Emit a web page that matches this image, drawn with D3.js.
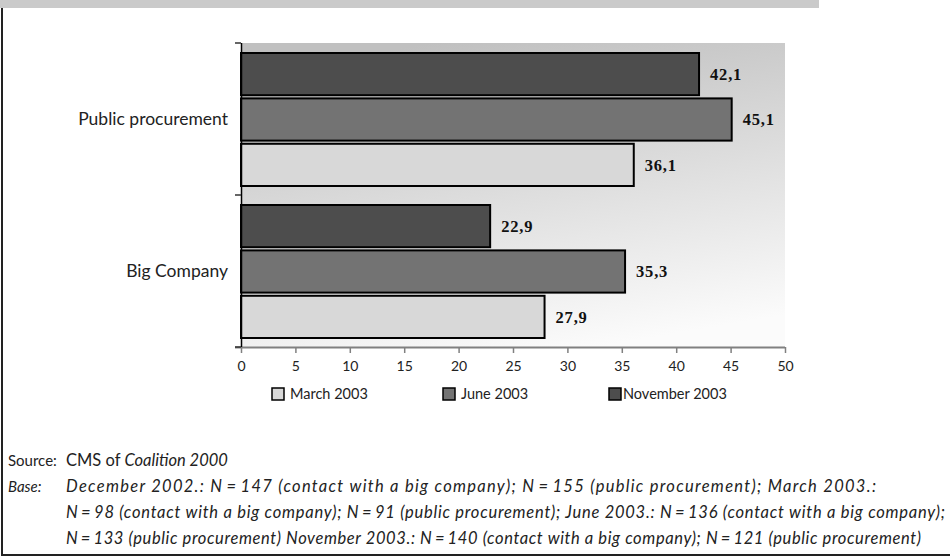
<!DOCTYPE html>
<html>
<head>
<meta charset="utf-8">
<script src="https://cdn.jsdelivr.net/npm/d3@7/dist/d3.min.js"></script>
<style>
  html, body { margin: 0; padding: 0; background: #fff; }
  svg { display: block; }
  .sans { font-family: Lato, "Open Sans", "Noto Sans", sans-serif; }
  .serif { font-family: "Liberation Serif", "DejaVu Serif", serif; }
</style>
</head>
<body>
<svg id="chart" width="950" height="558"></svg>
<script>
// Survey groups (top to bottom on the chart)
const categories = ["Public procurement", "Big Company"];
// Survey waves, drawn top to bottom inside each group
const seriesNames = ["November 2003", "June 2003", "March 2003"];
// Legend order
const legendOrder = ["March 2003", "June 2003", "November 2003"];
// Shares per wave, in the same order as categories
const november2003 = [42.1, 22.9];
const june2003 = [45.1, 35.3];
const march2003 = [36.1, 27.9];
const xTicks = [0, 5, 10, 15, 20, 25, 30, 35, 40, 45, 50];

const seriesValues = {
  "November 2003": november2003,
  "June 2003": june2003,
  "March 2003": march2003
};
const fills = {
  "November 2003": "#4d4d4d",
  "June 2003": "#737373",
  "March 2003": "#d8d8d8"
};

const svg = d3.select("#chart");

// Page frame: grey strip on top, rule on the left and at the bottom
svg.append("rect").attr("x", 0).attr("y", 0).attr("width", 819).attr("height", 8).attr("fill", "#cacaca");
svg.append("line").attr("x1", 2).attr("x2", 2).attr("y1", 8).attr("y2", 556)
  .attr("stroke", "#222").attr("stroke-width", 2);
svg.append("line").attr("x1", 1).attr("x2", 950).attr("y1", 555).attr("y2", 555)
  .attr("stroke", "#222").attr("stroke-width", 2);

const plot = { left: 241, right: 785, top: 43, bottom: 347 };

const x = d3.scaleLinear().domain([0, 50]).range([plot.left, plot.right]);
const y = d3.scaleBand().domain(categories).range([plot.top, plot.bottom]);
const inner = d3.scaleBand().domain(seriesNames)
  .range([10, y.bandwidth() - 9]).paddingInner(0.07);

// Plot background with a soft grey gradient
const defs = svg.append("defs");
const grad = defs.append("linearGradient").attr("id", "plotBg")
  .attr("x1", "0.35").attr("y1", "0").attr("x2", "0.65").attr("y2", "1");
grad.append("stop").attr("offset", "0%").attr("stop-color", "#c0c0c0");
grad.append("stop").attr("offset", "100%").attr("stop-color", "#fbfbfb");

svg.append("rect")
  .attr("x", plot.left).attr("y", plot.top)
  .attr("width", plot.right - plot.left).attr("height", plot.bottom - plot.top)
  .attr("fill", "url(#plotBg)");

// Bars
const rows = [];
categories.forEach((c, i) => {
  seriesNames.forEach(s => rows.push({ cat: c, series: s, value: seriesValues[s][i] }));
});

svg.append("g").selectAll("rect").data(rows).join("rect")
  .attr("x", x(0))
  .attr("y", d => y(d.cat) + inner(d.series))
  .attr("width", d => x(d.value) - x(0))
  .attr("height", inner.bandwidth())
  .attr("fill", d => fills[d.series])
  .attr("stroke", "#000")
  .attr("stroke-width", 2);

// Value labels
svg.append("g").selectAll("text").data(rows).join("text")
  .attr("class", "serif")
  .attr("x", d => x(d.value) + 11)
  .attr("y", d => y(d.cat) + inner(d.series) + inner.bandwidth() / 2)
  .attr("dy", "0.35em")
  .attr("font-size", 16.5)
  .attr("font-weight", "bold")
  .attr("letter-spacing", 0.8)
  .attr("fill", "#111")
  .text(d => d3.format(".1f")(d.value).replace(".", ","));

// X axis
const xAxis = svg.append("g")
  .attr("transform", `translate(0,${plot.bottom})`)
  .call(d3.axisBottom(x).tickValues(xTicks).tickSize(6).tickSizeOuter(0).tickPadding(8)
    .tickFormat(d3.format("d")));
xAxis.select(".domain").attr("stroke", "#808080").attr("stroke-width", 2)
  .attr("d", `M${plot.left - 6},0.5H${plot.right}`);
xAxis.selectAll(".tick line").attr("stroke", "#808080").attr("stroke-width", 1.5);
xAxis.selectAll(".tick text").attr("class", "sans").attr("font-size", 14).attr("fill", "#222");

// Y axis: category labels centred on each band, ticks on band edges
const yAxis = svg.append("g")
  .attr("transform", `translate(${plot.left},0)`)
  .call(d3.axisLeft(y).tickSize(0).tickPadding(13));
yAxis.select(".domain").attr("stroke", "#000").attr("stroke-width", 1.5)
  .attr("d", `M0.5,${plot.top}V${plot.bottom}`);
yAxis.selectAll(".tick text").attr("class", "sans").attr("font-size", 17.5).attr("fill", "#222");

const edges = categories.map(c => y(c)).concat([plot.bottom]);
svg.append("g").selectAll("line").data(edges).join("line")
  .attr("x1", plot.left - 6).attr("x2", plot.left)
  .attr("y1", d => d).attr("y2", d => d)
  .attr("stroke", "#333").attr("stroke-width", 1.5);

// Legend
const legendX = [272, 443, 609];
const legend = svg.append("g").selectAll("g").data(legendOrder).join("g")
  .attr("transform", (d, i) => `translate(${legendX[i]},388)`);
legend.append("rect").attr("width", 12).attr("height", 12)
  .attr("fill", d => fills[d]).attr("stroke", "#000").attr("stroke-width", 1.5);
legend.append("text").attr("class", "sans")
  .attr("x", (d, i) => i === 2 ? 14 : 18).attr("y", 6).attr("dy", "0.35em")
  .attr("font-size", 14.5).attr("fill", "#222").text(d => d);

// Source notes
const notes = svg.append("g").attr("class", "sans").attr("font-size", 16.5).attr("fill", "#222");
notes.append("text").attr("x", 8).attr("y", 466).attr("font-size", 15).text("Source:");
const src = notes.append("text").attr("x", 66).attr("y", 466);
src.append("tspan").text("CMS of ");
src.append("tspan").attr("font-style", "italic").text("Coalition 2000");

const baseLines = [
  "December 2002.: N\u2009=\u2009147 (contact with a big company); N\u2009=\u2009155 (public procurement); March 2003.:",
  "N\u2009=\u200998 (contact with a big company); N\u2009=\u200991 (public procurement); June 2003.: N\u2009=\u2009136 (contact with a big company);",
  "N\u2009=\u2009133 (public procurement) November 2003.: N\u2009=\u2009140 (contact with a big company); N\u2009=\u2009121 (public procurement)"
];
const baseWidths = [813, 882, 858];
notes.append("text").attr("x", 8).attr("y", 492).attr("font-size", 15)
  .attr("font-style", "italic").text("Base:");
notes.selectAll("text.base").data(baseLines).join("text")
  .attr("class", "base")
  .attr("x", 66).attr("y", (d, i) => 492 + i * 26)
  .attr("font-style", "italic")
  .attr("textLength", (d, i) => baseWidths[i] - 3)
  .attr("lengthAdjust", "spacing")
  .text(d => d);
</script>
</body>
</html>
